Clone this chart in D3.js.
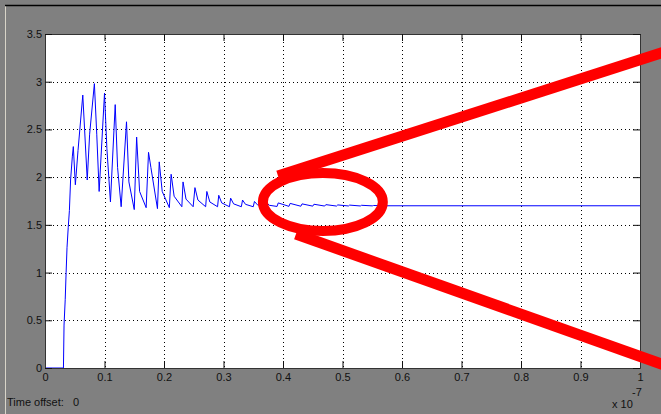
<!DOCTYPE html>
<html>
<head>
<meta charset="utf-8">
<script src="https://cdn.jsdelivr.net/npm/d3@7"></script>
<style>
  html, body { margin: 0; padding: 0; background: #808080; }
  svg { display: block; }
  text { font-family: "Liberation Sans", Arial, sans-serif; font-size: 11px; fill: #111; }
</style>
</head>
<body>
<svg id="chart" width="661" height="414"></svg>
<script>
// ---- data (time in units of 1e-7 s, value in volts) ----
const time = [
  0, 0.031, 0.032, 0.034, 0.0355, 0.037, 0.039, 0.041, 0.043, 0.046,
  0.0476, 0.051, 0.0555, 0.0635, 0.071, 0.075, 0.083, 0.087, 0.091, 0.100,
  0.104, 0.110, 0.118, 0.122, 0.128, 0.137, 0.141, 0.150, 0.154, 0.159,
  0.170, 0.174, 0.178, 0.189, 0.192, 0.197, 0.209, 0.212, 0.217, 0.230,
  0.232, 0.237, 0.249, 0.252, 0.257, 0.270, 0.272, 0.277, 0.290, 0.292,
  0.297, 0.310, 0.312, 0.317, 0.330, 0.332, 0.337, 0.350, 0.352, 0.357,
  0.370, 0.372, 0.377, 0.390, 0.392, 0.410, 0.412, 0.430, 0.432, 0.450,
  0.452, 0.470, 0.472, 0.490, 0.492, 0.510, 0.512, 0.530, 0.532, 0.550,
  0.552, 0.570, 1.0
];
const volts = [
  0, 0, 0.45, 0.72, 1.00, 1.26, 1.47, 1.65, 1.97, 2.22,
  2.32, 1.92, 2.28, 2.86, 1.97, 2.45, 2.98, 2.45, 1.85, 2.88,
  2.30, 1.74, 2.76, 2.10, 1.69, 2.58, 1.95, 1.66, 2.42, 1.85,
  1.68, 2.26, 2.10, 1.67, 2.16, 1.85, 1.68, 2.03, 1.80, 1.69,
  1.95, 1.77, 1.69, 1.89, 1.76, 1.69, 1.85, 1.74, 1.69, 1.81,
  1.73, 1.69, 1.78, 1.72, 1.69, 1.76, 1.715, 1.69, 1.745, 1.71,
  1.692, 1.735, 1.705, 1.693, 1.73, 1.694, 1.725, 1.695, 1.72, 1.696,
  1.716, 1.697, 1.712, 1.697, 1.709, 1.698, 1.707, 1.698, 1.705, 1.699,
  1.703, 1.70, 1.70
];
const xTicks = [0, 0.1, 0.2, 0.3, 0.4, 0.5, 0.6, 0.7, 0.8, 0.9, 1];
const yTicks = [0, 0.5, 1, 1.5, 2, 2.5, 3, 3.5];
const xTickLabels = ["0", "0.1", "0.2", "0.3", "0.4", "0.5", "0.6", "0.7", "0.8", "0.9", "1"];
const yTickLabels = ["0", "0.5", "1", "1.5", "2", "2.5", "3", "3.5"];
const xExponentBase = "x 10";
const xExponent = "-7";
const timeOffsetLabel = "Time offset:";
const timeOffsetValue = "0";
// red annotation (in data units): ellipse centre/radii and two lines
const highlightEllipse = [0.467, 1.74, 0.1008, 0.304];
const highlightLineUpper = [[0.3916, 2.012], [1.05, 3.33]];
const highlightLineLower = [[0.4218, 1.404], [1.05, 0.01]];

// ---- layout ----
const W = 661, H = 414;
const m = { left: 45, right: 21, top: 34, bottom: 46 };
const svg = d3.select("#chart");

// window frame
svg.append("rect").attr("x", 0).attr("y", 0).attr("width", W).attr("height", H).attr("fill", "#808080");
svg.append("line").attr("x1", 5.5).attr("x2", 5.5).attr("y1", 5).attr("y2", H).attr("stroke", "#d8d4c8").attr("stroke-width", 1);
svg.append("line").attr("x1", 5).attr("x2", W).attr("y1", 5.5).attr("y2", 5.5).attr("stroke", "#000").attr("stroke-width", 1.5);

const x = d3.scaleLinear().domain([0, 1]).range([m.left, W - m.right]);
const y = d3.scaleLinear().domain([0, 3.5]).range([H - m.bottom, m.top]);

// plot background
svg.append("rect")
  .attr("x", x(0)).attr("y", y(3.5))
  .attr("width", x(1) - x(0)).attr("height", y(0) - y(3.5))
  .attr("fill", "#fff");

// grid
const grid = svg.append("g").attr("stroke", "#000").attr("stroke-width", 1).attr("stroke-dasharray", "1,3");
grid.selectAll("line.gx").data(xTicks.slice(1, -1)).join("line")
  .attr("x1", d => Math.round(x(d)) + 0.5).attr("x2", d => Math.round(x(d)) + 0.5)
  .attr("y1", y(3.5)).attr("y2", y(0));
grid.selectAll("line.gy").data(yTicks.slice(1, -1)).join("line")
  .attr("y1", d => Math.round(y(d)) + 0.5).attr("y2", d => Math.round(y(d)) + 0.5)
  .attr("x1", x(0)).attr("x2", x(1));

// signal
const pts = time.map((t, i) => [t, volts[i]]);
const line = d3.line().x(d => x(d[0])).y(d => y(d[1]));
svg.append("path").datum(pts)
  .attr("d", line)
  .attr("fill", "none")
  .attr("stroke", "#0000ff")
  .attr("stroke-width", 1)
  .attr("stroke-linejoin", "miter");

// axes
const tickLen = 7;
const fmtX = (d, i) => xTickLabels[i];
const fmtY = (d, i) => yTickLabels[i];
const axB = svg.append("g").attr("transform", `translate(0,${y(0)})`)
  .call(d3.axisBottom(x).tickValues(xTicks).tickFormat(fmtX).tickSizeInner(-tickLen).tickSizeOuter(0).tickPadding(5));
const axT = svg.append("g").attr("transform", `translate(0,${y(3.5)})`)
  .call(d3.axisTop(x).tickValues(xTicks).tickFormat("").tickSizeInner(-tickLen).tickSizeOuter(0));
const axL = svg.append("g").attr("transform", `translate(${x(0)},0)`)
  .call(d3.axisLeft(y).tickValues(yTicks).tickFormat(fmtY).tickSizeInner(-tickLen).tickSizeOuter(0).tickPadding(3));
const axR = svg.append("g").attr("transform", `translate(${x(1)},0)`)
  .call(d3.axisRight(y).tickValues(yTicks).tickFormat("").tickSizeInner(-tickLen).tickSizeOuter(0));
[axB, axT, axL, axR].forEach(g => {
  g.select(".domain").attr("stroke", "#333");
  g.selectAll(".tick line").attr("stroke", "#111");
  g.selectAll(".tick text").attr("fill", "#111").style("font-size", "11px")
    .style("font-family", '"Liberation Sans", Arial, sans-serif');
});

// exponent label
svg.append("text").attr("x", 612).attr("y", 408).text(xExponentBase);
svg.append("text").attr("x", 632).attr("y", 396).text(xExponent);

// time offset
svg.append("text").attr("x", 7).attr("y", 406).text(timeOffsetLabel);
svg.append("text").attr("x", 73).attr("y", 406).text(timeOffsetValue);

// red annotation
const ann = svg.append("g").attr("stroke", "#ff0000").attr("fill", "none");
ann.append("ellipse")
  .attr("cx", x(highlightEllipse[0])).attr("cy", y(highlightEllipse[1]))
  .attr("rx", x(highlightEllipse[2]) - x(0)).attr("ry", y(0) - y(highlightEllipse[3]))
  .attr("stroke-width", 10);
[highlightLineUpper, highlightLineLower].forEach(l => {
  ann.append("line")
    .attr("x1", x(l[0][0])).attr("y1", y(l[0][1]))
    .attr("x2", x(l[1][0])).attr("y2", y(l[1][1]))
    .attr("stroke-width", 11);
});
</script>
</body>
</html>
